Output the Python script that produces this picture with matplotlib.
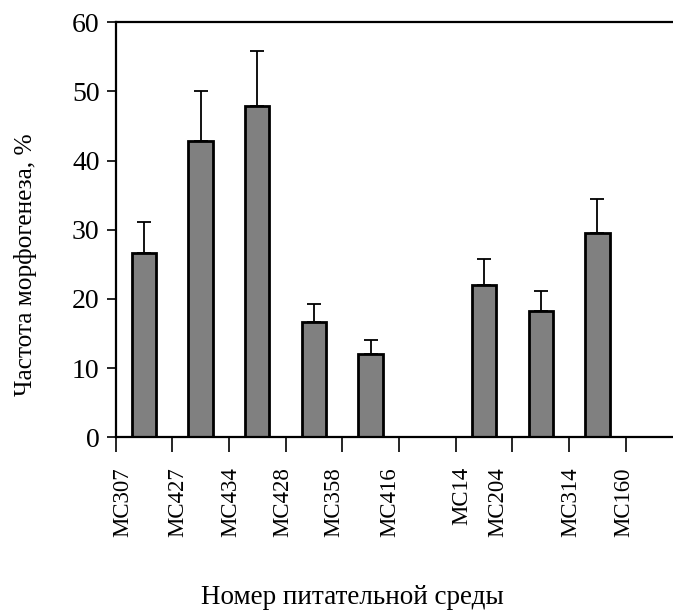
import numpy as np
import matplotlib
matplotlib.use("Agg")
import matplotlib.pyplot as plt

# Data
bar_slots = [0, 1, 2, 3, 4, 6, 7, 8]
values = [26.6, 42.9, 47.9, 16.7, 12.1, 22.0, 18.25, 29.6]
errors = [4.5, 7.2, 7.9, 2.6, 1.9, 3.8, 2.95, 4.9]
tick_labels = ["MC307", "MC427", "MC434", "MC428", "MC358", "MC416",
               "MC14", "MC204", "MC314", "MC160"]
label_slots = [-0.376, 0.603, 1.538, 2.446, 3.354, 4.342, 5.612, 6.247, 7.534, 8.469]
y_ticks = [0, 10, 20, 30, 40, 50, 60]

plt.rcParams['font.family'] = ['Liberation Serif', 'DejaVu Serif']

W, H = 673, 612
fig = plt.figure(figsize=(W / 100, H / 100), dpi=100)
left, top, bottom = 115.5, 22.3, 437.3
slot_px = 56.7
xmin, xmax = -0.5, 9.33
right = left + (xmax - xmin) * slot_px
ax = fig.add_axes([left / W, 1 - bottom / H, (right - left) / W, (bottom - top) / H])

ax.bar(bar_slots, values, width=0.43, color="#808080", edgecolor="black",
       linewidth=2.0, zorder=2)
ax.errorbar(bar_slots, values, yerr=[np.zeros(len(errors)), errors], fmt="none",
            ecolor="black", elinewidth=1.3, capsize=5, capthick=1.3, zorder=3)

ax.set_xlim(xmin, xmax)
ax.set_ylim(0, 60)
ax.set_yticks(y_ticks)
ax.set_yticklabels([str(v) for v in y_ticks], fontsize=20)

ax.set_xticks(np.arange(len(tick_labels)) - 0.5)
ax.set_xticklabels([])
ax.set_xticks(label_slots, minor=True)
ax.set_xticklabels(tick_labels, minor=True, rotation=90, fontsize=16.5)

ax.tick_params(axis="x", which="major", direction="out", length=10.5, width=1.2, colors="black")
ax.tick_params(axis="x", which="minor", length=0, pad=21.5, colors="black")
ax.tick_params(axis="y", direction="out", length=6.5, width=1.2, pad=5, colors="black")

for s in ["left", "bottom", "top"]:
    ax.spines[s].set_linewidth(1.6)
ax.spines["right"].set_visible(False)

fig.text(26 / W, 1 - 265 / H, "Частота морфогенеза, %", rotation=90,
         ha="center", va="center", fontsize=18.3)
fig.text(352 / W, 1 - 604 / H, "Номер питательной среды",
         ha="center", va="baseline", fontsize=19.5)

fig.savefig("out.png", dpi=100)
